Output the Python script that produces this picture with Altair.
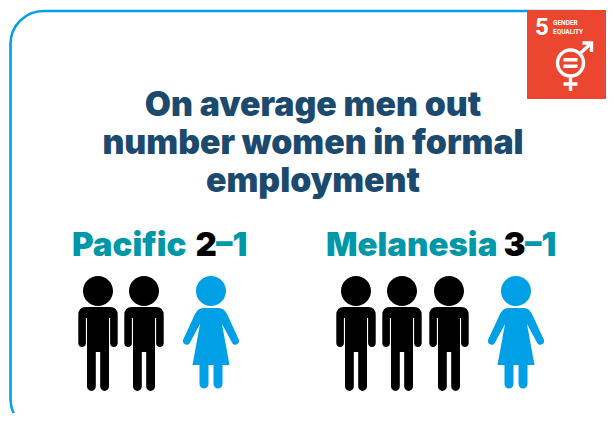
import altair as alt
import pandas as pd

# --- content ---
title_lines = ["On average men out", "number women in formal", "employment"]
regions = ["Pacific", "Melanesia"]
men = [2, 3]
women = [1, 1]
tile_number = "5"
tile_words = ["GENDER", "EQUALITY"]

# --- layout (page pixels) ---
W, H = 606, 413
FONT = "Inter"
NAVY, TEAL, BLUE, RED = "#1c4a6e", "#0097a9", "#00a0e6", "#ea4630"
region_layout = {"Pacific": dict(name=72, num=195.5, dash=216),
                 "Melanesia": dict(name=326, num=503.5, dash=525)}
slots = {"Pacific": {"m": [98, 144], "w": [211]},
         "Melanesia": {"m": [356, 402, 449], "w": [516]}}

MAN = ("M-15,0A15,15 0 1 0 15,0A15,15 0 1 0 -15,0Z"
       "M-12,16H12Q19.7,16 19.7,24V52.2A3.8,3.8 0 0 1 12.1,52.2V27H11V95.6"
       "A4.4,4.4 0 0 1 2.2,95.6V61H-2.2V95.6A4.4,4.4 0 0 1 -11,95.6V27H-12.1"
       "V52.2A3.8,3.8 0 0 1 -19.7,52.2V24Q-19.7,16 -12,16Z")
WOMAN = ("M-15,0A15,15 0 1 0 15,0A15,15 0 1 0 -15,0Z"
         "M-8,17H8Q13,17 16,23L28,49A3.8,3.8 0 0 1 21.5,52.5L11,33L18.5,74H11.5V93"
         "A4.5,4.5 0 0 1 2.5,93V74H-2.5V93A4.5,4.5 0 0 1 -11.5,93V74H-18.5L-11,33"
         "L-21.5,52.5A3.8,3.8 0 0 1 -28,49L-16,23Q-13,17 -8,17Z")
GENDER_LINES = ("M-13,0A13,13 0 1 0 13,0A13,13 0 1 0 -13,0Z"
                "M0,13V28M-7,21H7M9,-9L21,-20M12,-20H21V-11")
EQUALS = "M-7,-5H7V-1.5H-7ZM-7,1.5H7V5H-7Z"

X = alt.Scale(domain=[8, W], range=[0, W - 8], zero=False, nice=False)
Y = alt.Scale(domain=[8, H], range=[0, H - 8], zero=False, nice=False)
xe = lambda f="x": alt.X(f"{f}:Q", scale=X, axis=None)
ye = lambda f="y": alt.Y(f"{f}:Q", scale=Y, axis=None)

frame = alt.Chart(pd.DataFrame([dict(x=10.5, x2=616, y=11, y2=432)])).mark_rect(
    cornerRadius=33, fill="white", stroke=BLUE, strokeWidth=2.6
).encode(x=xe(), x2="x2:Q", y=ye(), y2="y2:Q")

tile = alt.Chart(pd.DataFrame([dict(x=527, x2=614, y=10, y2=99)])).mark_rect(
    fill=RED
).encode(x=xe(), x2="x2:Q", y=ye(), y2="y2:Q")

icon_pos = pd.DataFrame([dict(x=570.5, y=63)])
icon = alt.Chart(icon_pos).mark_point(
    shape=GENDER_LINES, size=4, filled=False, stroke="white", strokeWidth=3.4, opacity=1
).encode(x=xe(), y=ye())
equals = alt.Chart(icon_pos).mark_point(
    shape=EQUALS, size=4, filled=True, fill="white", strokeWidth=0, opacity=1
).encode(x=xe(), y=ye())

rows = []
for i, line in enumerate(title_lines):
    rows.append(dict(t=line, x=313, y=116 + 38 * i, c=NAVY))
title = alt.Chart(pd.DataFrame(rows)).mark_text(
    font=FONT, fontSize=33.8, fontWeight=900, align="center", baseline="alphabetic"
).encode(x=xe(), y=ye(), text="t:N", color=alt.Color("c:N", scale=None))

rows = []
for r, m, w in zip(regions, men, women):
    p = region_layout[r]
    rows += [dict(t=r, x=p["name"], y=256, c=TEAL),
             dict(t=str(m), x=p["num"], y=256, c="black"),
             dict(t="\u2013" + str(w), x=p["dash"], y=256, c=TEAL)]
heads = alt.Chart(pd.DataFrame(rows)).mark_text(
    font=FONT, fontSize=33, fontWeight=900, align="left", baseline="alphabetic"
).encode(x=xe(), y=ye(), text="t:N", color=alt.Color("c:N", scale=None))

people = []
for r, m, w in zip(regions, men, women):
    people += [dict(x=slots[r]["m"][i], y=291, g="m") for i in range(m)]
    people += [dict(x=slots[r]["w"][i], y=291, g="w") for i in range(w)]
people = pd.DataFrame(people)
man_layer = alt.Chart(people[people.g == "m"]).mark_point(
    shape=MAN, size=4, filled=True, fill="black", strokeWidth=0, opacity=1
).encode(x=xe(), y=ye())
woman_layer = alt.Chart(people[people.g == "w"]).mark_point(
    shape=WOMAN, size=4, filled=True, fill=BLUE, strokeWidth=0, opacity=1
).encode(x=xe(), y=ye())

num = alt.Chart(pd.DataFrame([dict(t=tile_number, x=535, y=35)])).mark_text(
    font="Roboto", fontSize=24, fontWeight="bold", color="white",
    align="left", baseline="alphabetic"
).encode(x=xe(), y=ye(), text="t:N")
words = alt.Chart(pd.DataFrame(
    [dict(t=t, x=553, y=24.5 + 9 * i) for i, t in enumerate(tile_words)]
)).mark_text(
    font="Roboto", fontSize=6.5, fontWeight="bold", color="white",
    align="left", baseline="alphabetic"
).encode(x=xe(), y=ye(), text="t:N")

chart = alt.layer(frame, tile, icon, equals, num, words, title, heads, man_layer, woman_layer).properties(
    width=W - 8, height=H - 8, padding=0,
    autosize=alt.AutoSizeParams(type="none"),
    background="white",
).configure_view(stroke=None)

chart.save("out.html", embed_options={"renderer": "svg", "actions": False})
